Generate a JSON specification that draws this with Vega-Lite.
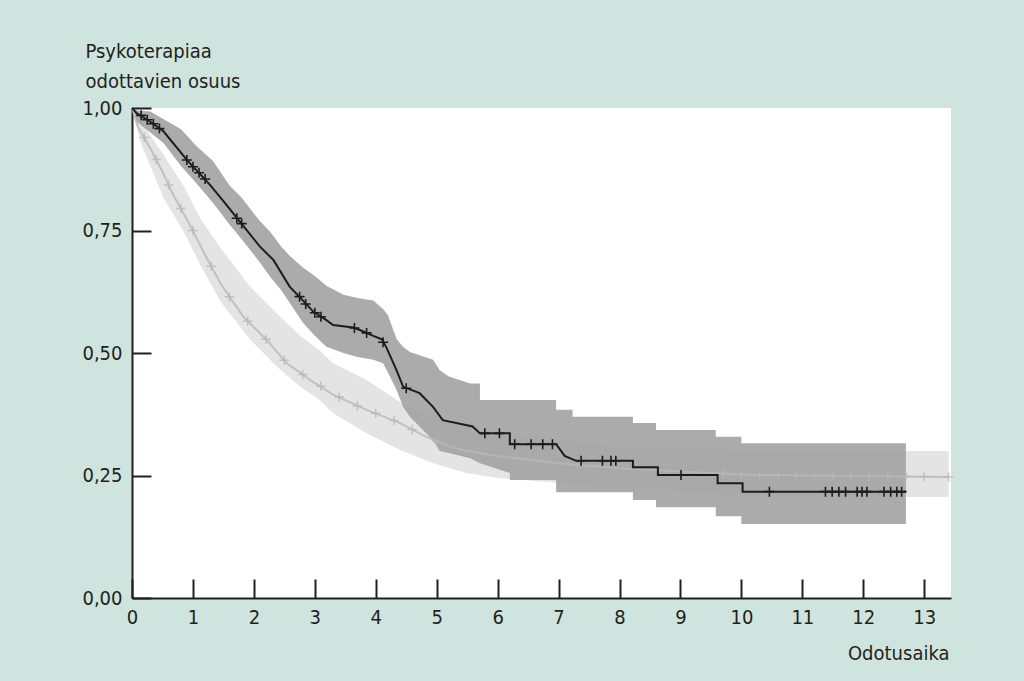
{
  "$schema": "https://vega.github.io/schema/vega-lite/v6.json",
  "autosize": {"type": "none"},
  "padding": {"left": 132, "top": 108, "right": 73, "bottom": 83},
  "width": 819,
  "height": 490,
  "background": "#cfe4de",
  "datasets": {
    "darkBand": [
      {"t": 0, "lo": 1.0, "hi": 1.0},
      {"t": 0.08, "lo": 0.972, "hi": 0.995},
      {"t": 0.3, "lo": 0.95, "hi": 0.993},
      {"t": 0.52, "lo": 0.928, "hi": 0.977},
      {"t": 0.8, "lo": 0.882, "hi": 0.957},
      {"t": 1.06, "lo": 0.846, "hi": 0.922},
      {"t": 1.33, "lo": 0.806, "hi": 0.892},
      {"t": 1.6, "lo": 0.762, "hi": 0.842},
      {"t": 1.8, "lo": 0.732, "hi": 0.817},
      {"t": 2.08, "lo": 0.688, "hi": 0.772},
      {"t": 2.27, "lo": 0.655, "hi": 0.747},
      {"t": 2.45, "lo": 0.628, "hi": 0.717},
      {"t": 2.6, "lo": 0.6, "hi": 0.697},
      {"t": 2.81, "lo": 0.561, "hi": 0.674},
      {"t": 3.0, "lo": 0.535, "hi": 0.657},
      {"t": 3.19, "lo": 0.513, "hi": 0.637},
      {"t": 3.47, "lo": 0.5, "hi": 0.619},
      {"t": 3.7, "lo": 0.492, "hi": 0.612},
      {"t": 3.96, "lo": 0.486, "hi": 0.607},
      {"t": 4.12, "lo": 0.479, "hi": 0.59},
      {"t": 4.2, "lo": 0.46, "hi": 0.577},
      {"t": 4.34, "lo": 0.425, "hi": 0.529},
      {"t": 4.45, "lo": 0.39, "hi": 0.512},
      {"t": 4.56, "lo": 0.37, "hi": 0.502},
      {"t": 4.94, "lo": 0.322, "hi": 0.486},
      {"t": 5.05, "lo": 0.3, "hi": 0.465},
      {"t": 5.2, "lo": 0.296, "hi": 0.452},
      {"t": 5.55, "lo": 0.285, "hi": 0.438},
      {"t": 5.71, "lo": 0.275, "hi": 0.438},
      {"t": 5.71, "lo": 0.275, "hi": 0.404},
      {"t": 6.2, "lo": 0.255, "hi": 0.404},
      {"t": 6.2, "lo": 0.241, "hi": 0.404},
      {"t": 6.96, "lo": 0.241, "hi": 0.404},
      {"t": 6.96, "lo": 0.216, "hi": 0.384},
      {"t": 7.23, "lo": 0.216, "hi": 0.384},
      {"t": 7.23, "lo": 0.216, "hi": 0.37},
      {"t": 8.22, "lo": 0.216, "hi": 0.37},
      {"t": 8.22, "lo": 0.2, "hi": 0.357},
      {"t": 8.6, "lo": 0.2, "hi": 0.357},
      {"t": 8.6, "lo": 0.185, "hi": 0.343},
      {"t": 9.58, "lo": 0.185, "hi": 0.343},
      {"t": 9.58, "lo": 0.167, "hi": 0.329},
      {"t": 10.0, "lo": 0.167, "hi": 0.329},
      {"t": 10.0, "lo": 0.151, "hi": 0.316},
      {"t": 12.7, "lo": 0.151, "hi": 0.316}
    ],
    "darkLine": [
      {"t": 0, "s": 1.0},
      {"t": 0.08, "s": 0.989},
      {"t": 0.3, "s": 0.972},
      {"t": 0.52, "s": 0.952},
      {"t": 0.9, "s": 0.894},
      {"t": 1.28, "s": 0.843},
      {"t": 1.5, "s": 0.81},
      {"t": 1.77, "s": 0.768},
      {"t": 2.1, "s": 0.717},
      {"t": 2.32, "s": 0.69},
      {"t": 2.59, "s": 0.635},
      {"t": 2.76, "s": 0.613},
      {"t": 2.97, "s": 0.585},
      {"t": 3.19, "s": 0.567},
      {"t": 3.3, "s": 0.557},
      {"t": 3.63, "s": 0.552},
      {"t": 3.74, "s": 0.547},
      {"t": 3.96, "s": 0.535},
      {"t": 4.1, "s": 0.528},
      {"t": 4.18, "s": 0.51},
      {"t": 4.34, "s": 0.465},
      {"t": 4.45, "s": 0.431},
      {"t": 4.72, "s": 0.418},
      {"t": 4.94, "s": 0.39},
      {"t": 5.1, "s": 0.363},
      {"t": 5.59, "s": 0.35},
      {"t": 5.71, "s": 0.336},
      {"t": 6.2, "s": 0.336},
      {"t": 6.2, "s": 0.314},
      {"t": 6.96, "s": 0.314},
      {"t": 7.1, "s": 0.29},
      {"t": 7.29, "s": 0.28},
      {"t": 8.22, "s": 0.28},
      {"t": 8.22, "s": 0.267},
      {"t": 8.63, "s": 0.267},
      {"t": 8.63, "s": 0.251},
      {"t": 9.61, "s": 0.251},
      {"t": 9.61, "s": 0.234},
      {"t": 10.02, "s": 0.234},
      {"t": 10.02, "s": 0.217},
      {"t": 12.7, "s": 0.217}
    ],
    "lightBand": [
      {"t": 0, "lo": 1.0, "hi": 1.0},
      {"t": 0.14, "lo": 0.93, "hi": 0.975},
      {"t": 0.52, "lo": 0.816, "hi": 0.904},
      {"t": 0.85, "lo": 0.747, "hi": 0.84},
      {"t": 1.12, "lo": 0.68, "hi": 0.775},
      {"t": 1.45, "lo": 0.605, "hi": 0.715},
      {"t": 1.94, "lo": 0.527, "hi": 0.635},
      {"t": 2.38, "lo": 0.472, "hi": 0.58},
      {"t": 2.76, "lo": 0.431, "hi": 0.535},
      {"t": 3.08, "lo": 0.404, "hi": 0.505},
      {"t": 3.3, "lo": 0.377, "hi": 0.479},
      {"t": 3.85, "lo": 0.336, "hi": 0.445},
      {"t": 4.4, "lo": 0.302, "hi": 0.4},
      {"t": 4.94, "lo": 0.275, "hi": 0.37},
      {"t": 5.49, "lo": 0.255, "hi": 0.35},
      {"t": 6.0, "lo": 0.245, "hi": 0.335},
      {"t": 7.0, "lo": 0.235, "hi": 0.32},
      {"t": 8.0, "lo": 0.225, "hi": 0.31},
      {"t": 10.0, "lo": 0.21, "hi": 0.3},
      {"t": 12.7, "lo": 0.206, "hi": 0.3},
      {"t": 13.4, "lo": 0.206, "hi": 0.3}
    ],
    "lightLine": [
      {"t": 0, "s": 1.0},
      {"t": 0.1, "s": 0.96},
      {"t": 0.3, "s": 0.918},
      {"t": 0.5, "s": 0.87},
      {"t": 0.68, "s": 0.822},
      {"t": 0.95, "s": 0.761},
      {"t": 1.2, "s": 0.7},
      {"t": 1.45, "s": 0.643},
      {"t": 1.61, "s": 0.613},
      {"t": 1.83, "s": 0.574},
      {"t": 2.21, "s": 0.527},
      {"t": 2.54, "s": 0.479},
      {"t": 2.76, "s": 0.46},
      {"t": 2.92, "s": 0.445},
      {"t": 3.3, "s": 0.415},
      {"t": 3.85, "s": 0.384},
      {"t": 4.4, "s": 0.357},
      {"t": 4.83, "s": 0.329},
      {"t": 5.21, "s": 0.309},
      {"t": 5.5, "s": 0.3},
      {"t": 6.0, "s": 0.29},
      {"t": 7.0, "s": 0.275},
      {"t": 8.0, "s": 0.265},
      {"t": 9.0, "s": 0.258},
      {"t": 10.0, "s": 0.252},
      {"t": 11.0, "s": 0.25},
      {"t": 13.4, "s": 0.247}
    ],
    "darkCensor": [
      {"t": 0.15, "s": 0.985}, {"t": 0.25, "s": 0.976}, {"t": 0.35, "s": 0.968}, {"t": 0.45, "s": 0.958},
      {"t": 0.9, "s": 0.894}, {"t": 1.0, "s": 0.88}, {"t": 1.1, "s": 0.868}, {"t": 1.2, "s": 0.855},
      {"t": 1.72, "s": 0.775}, {"t": 1.8, "s": 0.764},
      {"t": 2.75, "s": 0.615}, {"t": 2.85, "s": 0.6}, {"t": 3.0, "s": 0.582}, {"t": 3.1, "s": 0.574},
      {"t": 3.65, "s": 0.551}, {"t": 3.85, "s": 0.541}, {"t": 4.12, "s": 0.522}, {"t": 4.5, "s": 0.428},
      {"t": 5.79, "s": 0.336}, {"t": 6.03, "s": 0.336},
      {"t": 6.28, "s": 0.314}, {"t": 6.55, "s": 0.314}, {"t": 6.74, "s": 0.314}, {"t": 6.9, "s": 0.314},
      {"t": 7.37, "s": 0.28}, {"t": 7.72, "s": 0.28}, {"t": 7.86, "s": 0.28}, {"t": 7.94, "s": 0.28},
      {"t": 9.01, "s": 0.251}, {"t": 10.46, "s": 0.217},
      {"t": 11.38, "s": 0.217}, {"t": 11.49, "s": 0.217}, {"t": 11.6, "s": 0.217}, {"t": 11.71, "s": 0.217},
      {"t": 11.9, "s": 0.217}, {"t": 11.98, "s": 0.217}, {"t": 12.06, "s": 0.217},
      {"t": 12.34, "s": 0.217}, {"t": 12.45, "s": 0.217}, {"t": 12.55, "s": 0.217}, {"t": 12.63, "s": 0.217}
    ],
    "lightCensor": [
      {"t": 0.2, "s": 0.94}, {"t": 0.4, "s": 0.895}, {"t": 0.6, "s": 0.843}, {"t": 0.8, "s": 0.795},
      {"t": 1.0, "s": 0.75}, {"t": 1.3, "s": 0.677}, {"t": 1.6, "s": 0.615}, {"t": 1.9, "s": 0.565},
      {"t": 2.2, "s": 0.528}, {"t": 2.5, "s": 0.485}, {"t": 2.8, "s": 0.456}, {"t": 3.1, "s": 0.432},
      {"t": 3.4, "s": 0.41}, {"t": 3.7, "s": 0.392}, {"t": 4.0, "s": 0.377}, {"t": 4.3, "s": 0.362},
      {"t": 4.6, "s": 0.344}, {"t": 5.0, "s": 0.32},
      {"t": 9.7, "s": 0.254}, {"t": 10.0, "s": 0.252}, {"t": 10.3, "s": 0.251}, {"t": 10.6, "s": 0.251},
      {"t": 10.9, "s": 0.25}, {"t": 11.2, "s": 0.25}, {"t": 11.5, "s": 0.25}, {"t": 11.8, "s": 0.249},
      {"t": 12.1, "s": 0.249}, {"t": 12.4, "s": 0.249}, {"t": 12.7, "s": 0.248}, {"t": 13.0, "s": 0.248},
      {"t": 13.4, "s": 0.247}
    ]
  },
  "layer": [
    {
      "data": {"name": "lightBand"},
      "mark": {"type": "area", "color": "#e4e4e4", "interpolate": "linear"},
      "encoding": {
        "x": {"field": "t", "type": "quantitative", "scale": {"domain": [0, 13.44], "nice": false, "zero": false},
          "axis": {
            "title": "Odotusaika",
            "values": [0,1,2,3,4,5,6,7,8,9,10,11,12,13],
            "format": "d",
            "grid": false,
            "tickSize": -19,
            "labelPadding": 28,
            "labelFlush": false,
            "labelOverlap": false,
            "titleAlign": "right",
            "titleBaseline": "alphabetic",
            "titleX": 817,
            "titleY": 61
          }
        },
        "y": {"field": "lo", "type": "quantitative", "scale": {"domain": [0, 1], "nice": false},
          "axis": {
            "title": ["Psykoterapiaa", "odottavien osuus"],
            "values": [0, 0.25, 0.5, 0.75, 1],
            "labelExpr": "replace(format(datum.value, '.2f'), '.', ',')",
            "grid": false,
            "tickSize": -19,
            "labelPadding": 29,
            "labelFlush": false,
            "labelOverlap": false,
            "titleAngle": 0,
            "titleAlign": "left",
            "titleBaseline": "alphabetic",
            "titleX": -47,
            "titleY": -51,
            "titleLineHeight": 30
          }
        },
        "y2": {"field": "hi"}
      }
    },
    {
      "data": {"name": "darkBand"},
      "mark": {"type": "area", "color": "#a4a4a4", "opacity": 0.92, "interpolate": "linear"},
      "encoding": {
        "x": {"field": "t", "type": "quantitative"},
        "y": {"field": "lo", "type": "quantitative"},
        "y2": {"field": "hi"}
      }
    },
    {
      "data": {"name": "lightLine"},
      "mark": {"type": "line", "color": "#b8b8b8", "strokeWidth": 2, "opacity": 0.8},
      "encoding": {
        "x": {"field": "t", "type": "quantitative"},
        "y": {"field": "s", "type": "quantitative"}
      }
    },
    {
      "data": {"name": "lightCensor"},
      "mark": {"type": "point", "shape": "M-1,0H1M0,-1V1", "filled": false, "color": "#b8b8b8", "strokeWidth": 1.5, "size": 90, "opacity": 0.8},
      "encoding": {
        "x": {"field": "t", "type": "quantitative"},
        "y": {"field": "s", "type": "quantitative"}
      }
    },
    {
      "data": {"name": "darkLine"},
      "mark": {"type": "line", "color": "#1c1c1c", "strokeWidth": 2},
      "encoding": {
        "x": {"field": "t", "type": "quantitative"},
        "y": {"field": "s", "type": "quantitative"}
      }
    },
    {
      "data": {"name": "darkCensor"},
      "mark": {"type": "point", "shape": "M-1,0H1M0,-1V1", "filled": false, "color": "#1c1c1c", "strokeWidth": 1.6, "size": 100, "opacity": 1},
      "encoding": {
        "x": {"field": "t", "type": "quantitative"},
        "y": {"field": "s", "type": "quantitative"}
      }
    }
  ],
  "config": {
    "view": {"fill": "white", "stroke": null},
    "font": "DejaVu Sans Condensed, Roboto, sans-serif",
    "axis": {
      "domainColor": "#231f20",
      "domainWidth": 2,
      "tickColor": "#231f20",
      "tickWidth": 2,
      "labelColor": "#231f20",
      "labelFont": "DejaVu Sans Condensed, Roboto, sans-serif",
      "labelFontSize": 20,
      "titleColor": "#231f20",
      "titleFont": "DejaVu Sans Condensed, Roboto, sans-serif",
      "titleFontSize": 20,
      "titleFontWeight": "normal"
    }
  }
}
